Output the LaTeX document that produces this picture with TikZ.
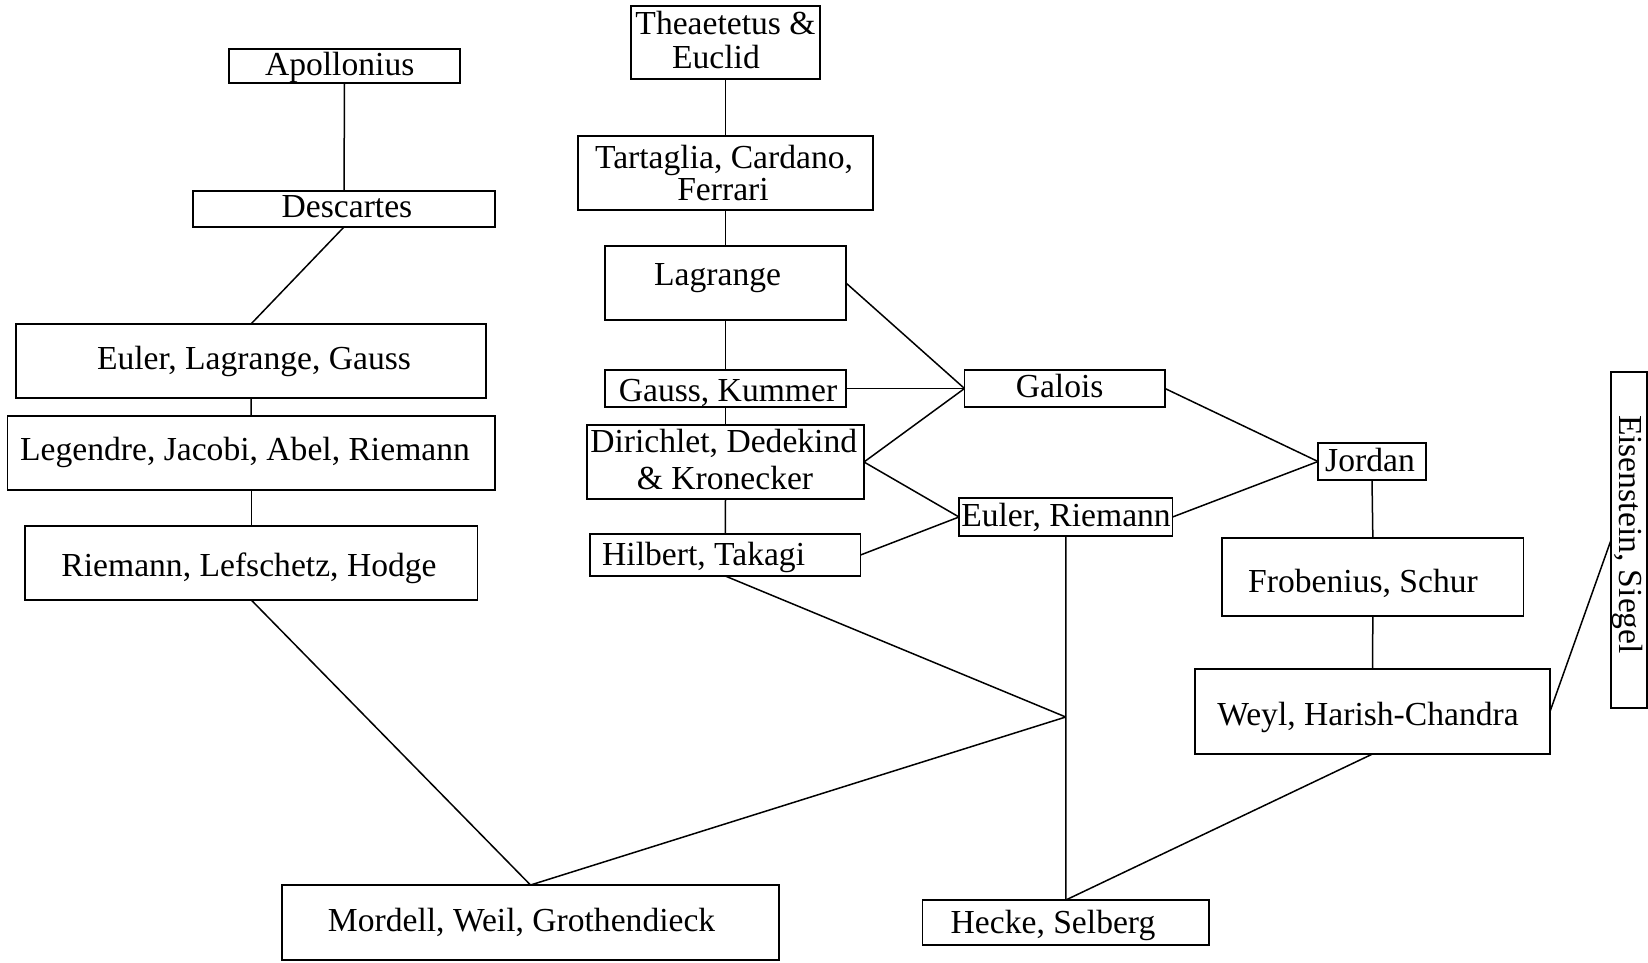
\documentclass[tikz,border=0pt]{standalone}
\usepackage{fontspec}
\setmainfont{Liberation Serif}
\begin{document}
\begin{tikzpicture}[x=1pt,y=-1pt, line width=1.5pt,
  box/.style={draw, rectangle, inner sep=0pt, outer sep=0pt},
  txt/.style={inner sep=0pt, anchor=base, font=\fontsize{33.6}{34.7}\selectfont},
  conn/.style={line width=1.5pt}]
\useasboundingbox (0,0) rectangle (1648,963);
% boxes
\node[box, minimum width=231, minimum height=34] (apo) at (344.5,66) {};
\node[box, minimum width=302, minimum height=36] (des) at (344,209) {};
\node[box, minimum width=470, minimum height=74] (elg) at (251,361) {};
\node[box, minimum width=487.5, minimum height=74] (leg) at (251.25,453) {};
\node[box, minimum width=452.5, minimum height=74] (rlh) at (251.25,563) {};
\node[box, minimum width=189, minimum height=73] (the) at (725.5,42.5) {};
\node[box, minimum width=295, minimum height=74] (tar) at (725.5,173) {};
\node[box, minimum width=241, minimum height=74] (lag) at (725.5,283) {};
\node[box, minimum width=241, minimum height=37] (gk) at (725.5,388.5) {};
\node[box, minimum width=277, minimum height=74] (dir) at (725.5,462) {};
\node[box, minimum width=270.5, minimum height=42] (hil) at (725.25,555) {};
\node[box, minimum width=200.5, minimum height=37] (gal) at (1064.75,388.5) {};
\node[box, minimum width=213.5, minimum height=38] (eur) at (1065.75,517) {};
\node[box, minimum width=108, minimum height=37] (jor) at (1372,461.5) {};
\node[box, minimum width=301.7, minimum height=78] (fro) at (1372.85,577) {};
\node[box, minimum width=355, minimum height=85] (wey) at (1372.5,711.5) {};
\node[box, minimum width=36, minimum height=336] (eis) at (1629,540) {};
\node[box, minimum width=497, minimum height=75] (mor) at (530.5,922.5) {};
\node[box, minimum width=286.4, minimum height=45] (hec) at (1065.8,922.5) {};
\coordinate (j) at (1065.75,717);
% texts
\node[txt] (apoT) at (339.7,76) {Apollonius};
\node[txt] (desT) at (347,217) {Descartes};
\node[txt] (elgT) at (254,369) {Euler, Lagrange, Gauss};
\node[txt] (legT) at (245,460) {Legendre, Jacobi, Abel, Riemann};
\node[txt] (rlhT) at (249,576.7) {Riemann, Lefschetz, Hodge};
\node[txt] (theT1) at (725.5,34.3) {Theaetetus \&};
\node[txt] (theT2) at (716,69) {Euclid};
\node[txt] (tarT1) at (724,168.3) {Tartaglia, Cardano,};
\node[txt] (tarT2) at (723,200) {Ferrari};
\node[txt] (lagT) at (717.6,285.7) {Lagrange};
\node[txt] (gkT) at (728,401) {Gauss, Kummer};
\node[txt] (dirT1) at (723.7,452.3) {Dirichlet, Dedekind};
\node[txt] (dirT2) at (725,489) {\& Kronecker};
\node[txt] (hilT) at (703.6,565.7) {Hilbert, Takagi};
\node[txt] (galT) at (1059.6,397.3) {Galois};
\node[txt] (eurT) at (1066,526.7) {Euler, Riemann};
\node[txt] (jorT) at (1370,471.7) {Jordan};
\node[txt] (froT) at (1363,592) {Frobenius, Schur};
\node[txt] (weyT) at (1368,725.7) {Weyl, Harish-Chandra};
\node[txt, rotate=-90] (eisT) at (1619,534.5) {Eisenstein, Siegel};
\node[txt] (morT) at (521.6,931.7) {Mordell, Weil, Grothendieck};
\node[txt] (hecT) at (1053,933) {Hecke, Selberg};
% connectors
\draw[conn] (apo.south) -- (des.north);
\draw[conn] (des.south) -- (elg.north);
\draw[conn] (elg.south) -- (leg.north);
\draw[conn] (leg.south) -- (rlh.north);
\draw[conn] (rlh.south) -- (mor.north);
\draw[conn] (the.south) -- (tar.north);
\draw[conn] (tar.south) -- (lag.north);
\draw[conn] (lag.south) -- (gk.north);
\draw[conn] (gk.south) -- (dir.north);
\draw[conn] (dir.south) -- (hil.north);
\draw[conn] (lag.east) -- (gal.west);
\draw[conn] (gk.east) -- (gal.west);
\draw[conn] (dir.east) -- (gal.west);
\draw[conn] (dir.east) -- (eur.west);
\draw[conn] (hil.east) -- (eur.west);
\draw[conn] (gal.east) -- (jor.west);
\draw[conn] (eur.east) -- (jor.west);
\draw[conn] (jor.south) -- (fro.north);
\draw[conn] (fro.south) -- (wey.north);
\draw[conn] (wey.east) -- (eis.west);
\draw[conn] (wey.south) -- (hec.north);
\draw[conn] (eur.south) -- (hec.north);
\draw[conn] (hil.south) -- (j);
\draw[conn] (mor.north) -- (j);
\end{tikzpicture}
\end{document}
